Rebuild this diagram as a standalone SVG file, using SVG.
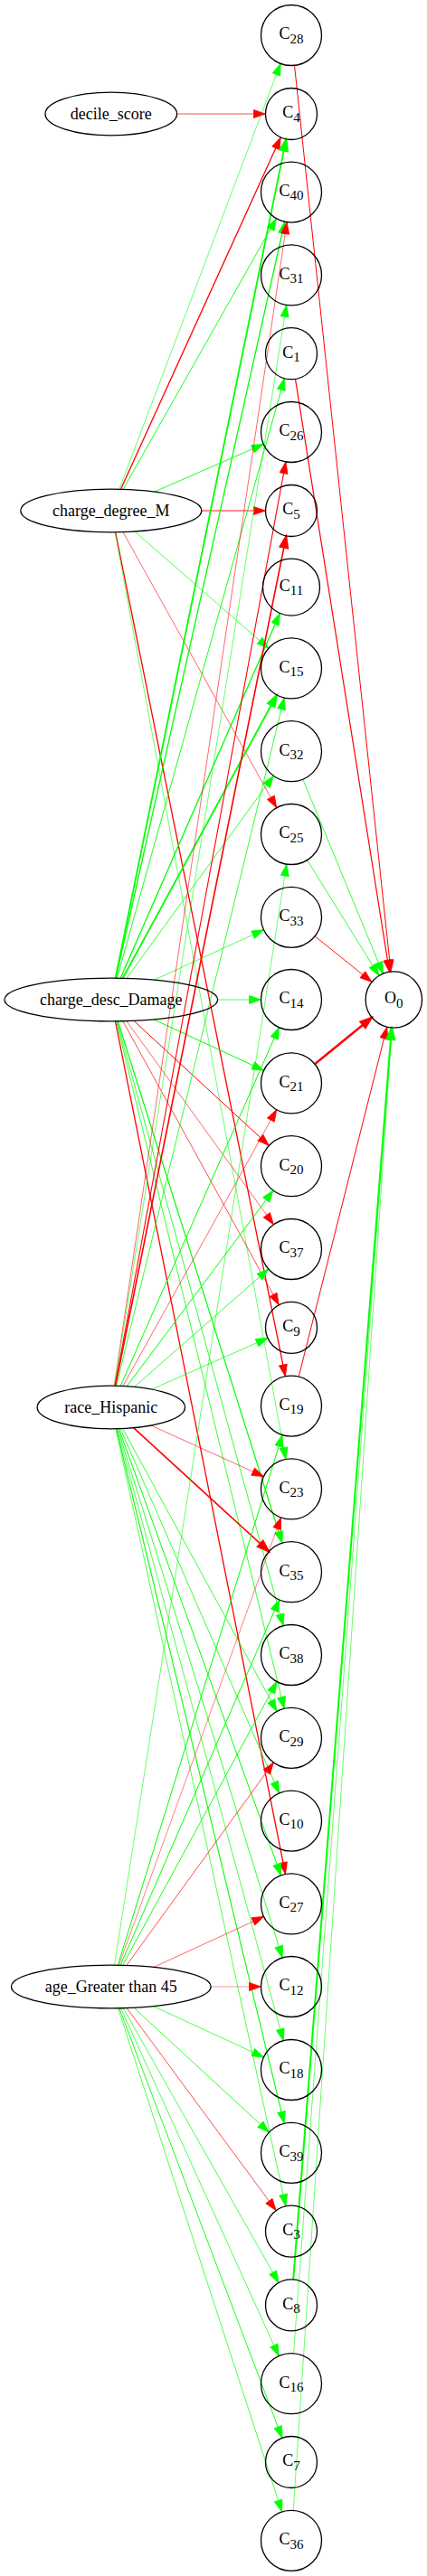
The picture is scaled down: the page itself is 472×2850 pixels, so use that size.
<svg xmlns="http://www.w3.org/2000/svg" width="472" height="2850" viewBox="0 0 472 2850">
<style>
.nd{fill:none;stroke:#000;stroke-width:1.3}
.t{font-family:"Liberation Serif","Times New Roman",serif;font-size:18px;fill:#000;text-anchor:middle}
.s{font-size:15px}
.e path{fill:none}
.r{stroke:#ff0000;marker-end:url(#ar)}
.g{stroke:#00ff00;marker-end:url(#ag)}
.rt{stroke:#ff0000;marker-end:url(#art)}
.gt{stroke:#00ff00;marker-end:url(#agt)}
</style>
<defs>
<marker id="ar" markerUnits="userSpaceOnUse" viewBox="0 0 14 10" refX="13" refY="4.5" markerWidth="14" markerHeight="10" orient="auto" overflow="visible"><path d="M0,0 L13,4.5 L0,9 z" fill="#ff0000" stroke="#ff0000" stroke-width="0.8"/></marker>
<marker id="ag" markerUnits="userSpaceOnUse" viewBox="0 0 14 10" refX="13" refY="4.5" markerWidth="14" markerHeight="10" orient="auto" overflow="visible"><path d="M0,0 L13,4.5 L0,9 z" fill="#00ff00" stroke="#00ff00" stroke-width="0.8"/></marker>
<marker id="art" markerUnits="userSpaceOnUse" viewBox="0 0 14 10" refX="13" refY="4.5" markerWidth="14" markerHeight="10" orient="auto" overflow="visible"><path d="M0,0 L13,4.5 L0,9 z" fill="#ff0000" stroke="#ff0000" stroke-width="1.8"/></marker>
<marker id="agt" markerUnits="userSpaceOnUse" viewBox="0 0 14 10" refX="13" refY="4.5" markerWidth="14" markerHeight="10" orient="auto" overflow="visible"><path d="M0,0 L13,4.5 L0,9 z" fill="#00ff00" stroke="#00ff00" stroke-width="1.8"/></marker>
</defs>
<rect width="472" height="2850" fill="#fff"/>
<g id="edges" class="e">
<path class="r" stroke-width="0.7" d="M195.6,126 L293.5,126"/>
<path class="g" stroke-width="0.6" d="M131.8,541.3 L310.1,70.3"/>
<path class="r" stroke-width="1.3" d="M133.5,541.3 L310.2,152"/>
<path class="g" stroke-width="0.9" d="M136.1,541.4 L305.5,241.8"/>
<path class="g" stroke-width="0.9" d="M170.7,544.1 L291.3,491.4"/>
<path class="r" stroke-width="0.9" d="M222.8,565 L293.5,565"/>
<path class="g" stroke-width="0.7" d="M149,588 L296.8,717.3"/>
<path class="r" stroke-width="0.6" d="M135.9,588.6 L305.7,893.7"/>
<path class="r" stroke-width="1.3" d="M127.6,588.8 L315.4,1522.8"/>
<path class="g" stroke-width="0.6" d="M127.2,588.8 L315.9,1614.5"/>
<path class="gt" stroke-width="1.8" d="M127.6,1082.2 L316.3,153.9"/>
<path class="g" stroke-width="1.3" d="M128.1,1082.2 L314.7,245.3"/>
<path class="g" stroke-width="0.9" d="M129.4,1082.2 L314.3,418.7"/>
<path class="g" stroke-width="1.3" d="M133.2,1082.3 L309.4,678.5"/>
<path class="gt" stroke-width="1.8" d="M135.7,1082.3 L306,768.8"/>
<path class="g" stroke-width="0.8" d="M139.9,1082.5 L302.3,858.3"/>
<path class="g" stroke-width="0.7" d="M170.4,1084.2 L291.5,1028.7"/>
<path class="g" stroke-width="0.7" d="M240.6,1106 L288.5,1106"/>
<path class="g" stroke-width="1" d="M169.8,1127.8 L291.6,1184.3"/>
<path class="r" stroke-width="1" d="M147.9,1129.3 L297.4,1267.5"/>
<path class="r" stroke-width="0.6" d="M139.8,1129.5 L302.4,1354.8"/>
<path class="r" stroke-width="0.7" d="M135.8,1129.7 L308.3,1443.8"/>
<path class="r" stroke-width="1.3" d="M127.5,1129.8 L315.5,2073.5"/>
<path class="g" stroke-width="1.2" d="M130.3,1129.8 L311.9,1707.2"/>
<path class="g" stroke-width="0.8" d="M129.3,1129.8 L313.1,1798.7"/>
<path class="g" stroke-width="0.8" d="M128.6,1129.8 L314.1,1890.3"/>
<path class="r" stroke-width="0.6" d="M126.3,1533.2 L317.1,245.7"/>
<path class="g" stroke-width="0.6" d="M126.6,1533.2 L316.7,337.5"/>
<path class="r" stroke-width="1.1" d="M127.2,1533.2 L315.9,510.9"/>
<path class="rt" stroke-width="1.6" d="M127.6,1533.2 L316.4,592.9"/>
<path class="g" stroke-width="0.8" d="M128.6,1533.3 L314.1,772"/>
<path class="g" stroke-width="1" d="M133.2,1533.4 L308.5,1136.6"/>
<path class="r" stroke-width="0.6" d="M135.9,1533.5 L305.7,1227.7"/>
<path class="g" stroke-width="1" d="M140.2,1533.8 L302,1317"/>
<path class="g" stroke-width="0.8" d="M148.5,1534.4 L296.8,1404.1"/>
<path class="g" stroke-width="0.7" d="M167.7,1537.1 L296,1480.3"/>
<path class="r" stroke-width="0.6" d="M166.9,1577 L291.5,1633.6"/>
<path class="rt" stroke-width="1.6" d="M147.6,1579.7 L297.3,1716.6"/>
<path class="g" stroke-width="0.8" d="M135.6,1580.5 L306,1893.4"/>
<path class="g" stroke-width="0.8" d="M133.1,1580.6 L308.6,1983.9"/>
<path class="g" stroke-width="1" d="M131.4,1580.7 L310.6,2074.9"/>
<path class="g" stroke-width="0.8" d="M130.2,1580.7 L312.1,2166"/>
<path class="g" stroke-width="0.7" d="M129.3,1580.7 L313.2,2257.7"/>
<path class="g" stroke-width="1.1" d="M128.5,1580.7 L314.1,2349.2"/>
<path class="g" stroke-width="0.7" d="M128,1580.8 L315.9,2440.8"/>
<path class="g" stroke-width="0.6" d="M126.5,2174.2 L316.8,956.1"/>
<path class="g" stroke-width="1" d="M130.2,2174.3 L312.1,1587.6"/>
<path class="r" stroke-width="0.5" d="M131.4,2174.3 L310.6,1678.9"/>
<path class="g" stroke-width="1" d="M133.1,2174.3 L308.7,1769.9"/>
<path class="g" stroke-width="0.9" d="M135.6,2174.4 L306,1860.4"/>
<path class="r" stroke-width="0.7" d="M139.8,2174.5 L302.4,1949.9"/>
<path class="r" stroke-width="0.6" d="M169.7,2176.5 L291.6,2120.4"/>
<path class="r" stroke-width="0.7" stroke-opacity="0.6" d="M233.1,2198 L288.5,2198"/>
<path class="g" stroke-width="0.7" d="M169.5,2219.6 L291.6,2276"/>
<path class="g" stroke-width="0.8" d="M147.9,2221.2 L297.4,2359.1"/>
<path class="r" stroke-width="0.7" d="M140.1,2221.5 L305.1,2445.6"/>
<path class="g" stroke-width="0.7" d="M136.2,2221.6 L308,2525.6"/>
<path class="g" stroke-width="0.7" d="M133.5,2221.7 L308.2,2606.7"/>
<path class="g" stroke-width="0.9" d="M131.8,2221.7 L311.9,2697.4"/>
<path class="g" stroke-width="0.7" d="M130.5,2221.7 L311.6,2778.9"/>
<path class="r" stroke-width="1" d="M325.5,72.3 L432,1075"/>
<path class="r" stroke-width="1.2" d="M326.5,419.4 L430.4,1075.2"/>
<path class="g" stroke-width="0.8" d="M334.8,862.2 L423.4,1077.2"/>
<path class="g" stroke-width="0.8" d="M339.6,951.5 L418.9,1079.5"/>
<path class="r" stroke-width="0.9" d="M348.1,1035.8 L411,1086.4"/>
<path class="rt" stroke-width="2.4" d="M348,1177.2 L411.1,1125.7"/>
<path class="r" stroke-width="1" d="M330.2,1523.1 L427.7,1136.3"/>
<path class="gt" stroke-width="2" d="M324.2,2522 L432.9,1137.1"/>
<path class="g" stroke-width="0.6" d="M324.5,2603.8 L433,1137.1"/>
<path class="g" stroke-width="0.6" d="M324.2,2777.4 L433.2,1137.1"/>
</g>
<g id="decile_score"><ellipse class="nd" cx="122.8" cy="126" rx="72.8" ry="23.8"/><text class="t" x="122.8" y="131.5">decile_score</text></g>
<g id="charge_degree_M"><ellipse class="nd" cx="122.8" cy="565" rx="100" ry="23.8"/><text class="t" x="122.8" y="570.5">charge_degree_M</text></g>
<g id="charge_desc_Damage"><ellipse class="nd" cx="122.8" cy="1106" rx="117.8" ry="23.8"/><text class="t" x="122.8" y="1111.5">charge_desc_Damage</text></g>
<g id="race_Hispanic"><ellipse class="nd" cx="122.8" cy="1557" rx="81.7" ry="23.8"/><text class="t" x="122.8" y="1562.5">race_Hispanic</text></g>
<g id="age_Greater_than_45"><ellipse class="nd" cx="122.8" cy="2198" rx="110.3" ry="23.8"/><text class="t" x="122.8" y="2203.5">age_Greater than 45</text></g>
<g id="C28"><circle class="nd" cx="322" cy="39" r="33.5"/><text class="t" x="322" y="43.3">C<tspan class="s" dy="4.4">28</tspan></text></g>
<g id="C4"><circle class="nd" cx="322" cy="126" r="28.5"/><text class="t" x="322" y="130.3">C<tspan class="s" dy="4.4">4</tspan></text></g>
<g id="C40"><circle class="nd" cx="322" cy="212.6" r="33.5"/><text class="t" x="322" y="216.9">C<tspan class="s" dy="4.4">40</tspan></text></g>
<g id="C31"><circle class="nd" cx="322" cy="304.4" r="33.5"/><text class="t" x="322" y="308.7">C<tspan class="s" dy="4.4">31</tspan></text></g>
<g id="C1"><circle class="nd" cx="322" cy="391.2" r="28.5"/><text class="t" x="322" y="395.5">C<tspan class="s" dy="4.4">1</tspan></text></g>
<g id="C26"><circle class="nd" cx="322" cy="478" r="33.5"/><text class="t" x="322" y="482.3">C<tspan class="s" dy="4.4">26</tspan></text></g>
<g id="C5"><circle class="nd" cx="322" cy="565" r="28.5"/><text class="t" x="322" y="569.3">C<tspan class="s" dy="4.4">5</tspan></text></g>
<g id="C11"><circle class="nd" cx="322" cy="649.6" r="31.5"/><text class="t" x="322" y="653.9">C<tspan class="s" dy="4.4">11</tspan></text></g>
<g id="C15"><circle class="nd" cx="322" cy="739.4" r="33.5"/><text class="t" x="322" y="743.7">C<tspan class="s" dy="4.4">15</tspan></text></g>
<g id="C32"><circle class="nd" cx="322" cy="831.2" r="33.5"/><text class="t" x="322" y="835.5">C<tspan class="s" dy="4.4">32</tspan></text></g>
<g id="C25"><circle class="nd" cx="322" cy="923" r="33.5"/><text class="t" x="322" y="927.3">C<tspan class="s" dy="4.4">25</tspan></text></g>
<g id="C33"><circle class="nd" cx="322" cy="1014.8" r="33.5"/><text class="t" x="322" y="1019.1">C<tspan class="s" dy="4.4">33</tspan></text></g>
<g id="C14"><circle class="nd" cx="322" cy="1106" r="33.5"/><text class="t" x="322" y="1110.3">C<tspan class="s" dy="4.4">14</tspan></text></g>
<g id="O0"><circle class="nd" cx="435.3" cy="1106" r="31.2"/><text class="t" x="435.3" y="1110.3">O<tspan class="s" dy="4.4">0</tspan></text></g>
<g id="C21"><circle class="nd" cx="322" cy="1198.4" r="33.5"/><text class="t" x="322" y="1202.7">C<tspan class="s" dy="4.4">21</tspan></text></g>
<g id="C20"><circle class="nd" cx="322" cy="1290.2" r="33.5"/><text class="t" x="322" y="1294.5">C<tspan class="s" dy="4.4">20</tspan></text></g>
<g id="C37"><circle class="nd" cx="322" cy="1382" r="33.5"/><text class="t" x="322" y="1386.3">C<tspan class="s" dy="4.4">37</tspan></text></g>
<g id="C9"><circle class="nd" cx="322" cy="1468.8" r="28.5"/><text class="t" x="322" y="1473.1">C<tspan class="s" dy="4.4">9</tspan></text></g>
<g id="C19"><circle class="nd" cx="322" cy="1555.6" r="33.5"/><text class="t" x="322" y="1559.9">C<tspan class="s" dy="4.4">19</tspan></text></g>
<g id="C23"><circle class="nd" cx="322" cy="1647.4" r="33.5"/><text class="t" x="322" y="1651.7">C<tspan class="s" dy="4.4">23</tspan></text></g>
<g id="C35"><circle class="nd" cx="322" cy="1739.2" r="33.5"/><text class="t" x="322" y="1743.5">C<tspan class="s" dy="4.4">35</tspan></text></g>
<g id="C38"><circle class="nd" cx="322" cy="1831" r="33.5"/><text class="t" x="322" y="1835.3">C<tspan class="s" dy="4.4">38</tspan></text></g>
<g id="C29"><circle class="nd" cx="322" cy="1922.8" r="33.5"/><text class="t" x="322" y="1927.1">C<tspan class="s" dy="4.4">29</tspan></text></g>
<g id="C10"><circle class="nd" cx="322" cy="2014.6" r="33.5"/><text class="t" x="322" y="2018.9">C<tspan class="s" dy="4.4">10</tspan></text></g>
<g id="C27"><circle class="nd" cx="322" cy="2106.4" r="33.5"/><text class="t" x="322" y="2110.7">C<tspan class="s" dy="4.4">27</tspan></text></g>
<g id="C12"><circle class="nd" cx="322" cy="2198" r="33.5"/><text class="t" x="322" y="2202.3">C<tspan class="s" dy="4.4">12</tspan></text></g>
<g id="C18"><circle class="nd" cx="322" cy="2290" r="33.5"/><text class="t" x="322" y="2294.3">C<tspan class="s" dy="4.4">18</tspan></text></g>
<g id="C39"><circle class="nd" cx="322" cy="2381.8" r="33.5"/><text class="t" x="322" y="2386.1">C<tspan class="s" dy="4.4">39</tspan></text></g>
<g id="C3"><circle class="nd" cx="322" cy="2468.6" r="28.5"/><text class="t" x="322" y="2472.9">C<tspan class="s" dy="4.4">3</tspan></text></g>
<g id="C8"><circle class="nd" cx="322" cy="2550.4" r="28.5"/><text class="t" x="322" y="2554.7">C<tspan class="s" dy="4.4">8</tspan></text></g>
<g id="C16"><circle class="nd" cx="322" cy="2637.2" r="33.5"/><text class="t" x="322" y="2641.5">C<tspan class="s" dy="4.4">16</tspan></text></g>
<g id="C7"><circle class="nd" cx="322" cy="2724" r="28.5"/><text class="t" x="322" y="2728.3">C<tspan class="s" dy="4.4">7</tspan></text></g>
<g id="C36"><circle class="nd" cx="322" cy="2810.8" r="33.5"/><text class="t" x="322" y="2815.1">C<tspan class="s" dy="4.4">36</tspan></text></g>
</svg>
